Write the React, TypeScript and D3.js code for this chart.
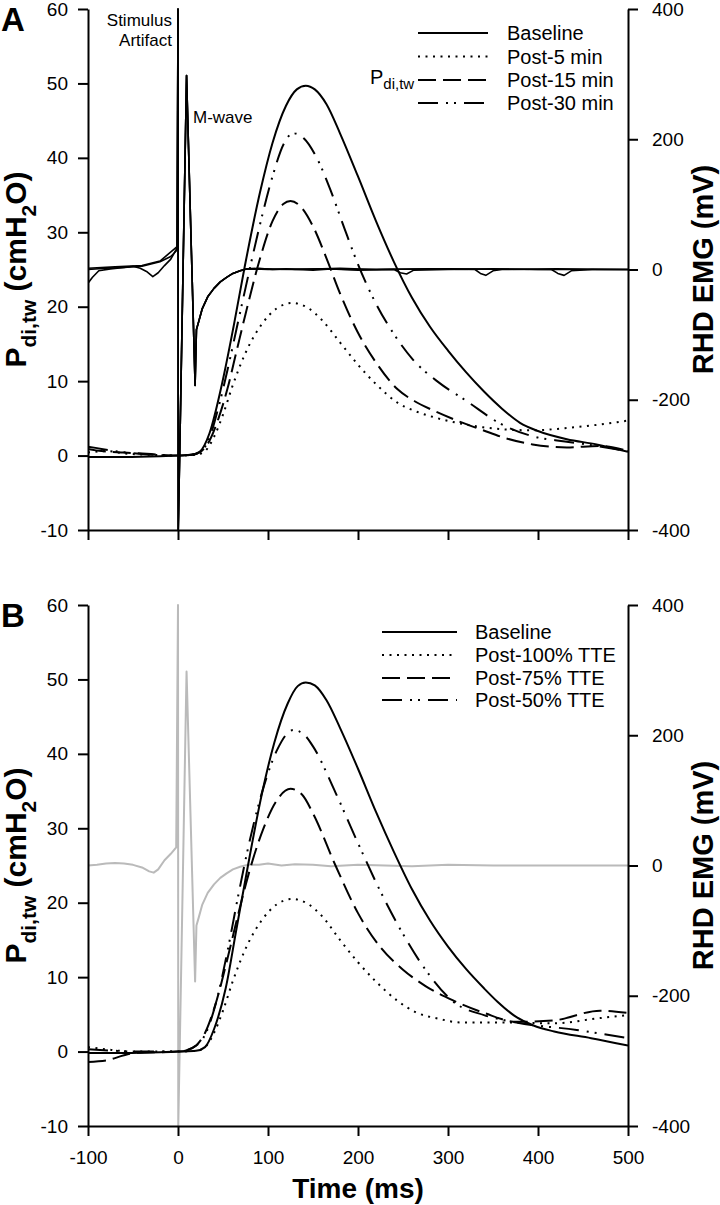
import React, { useEffect, useRef } from 'react';
import * as d3 from 'd3';

type Pt = [number, number];

const TIME_TICKS = [-100, 0, 100, 200, 300, 400, 500];
const PDI_TICKS = [-10, 0, 10, 20, 30, 40, 50, 60];
const EMG_TICKS = [-400, -200, 0, 200, 400];

const LEGEND_A = ['Baseline', 'Post-5 min', 'Post-15 min', 'Post-30 min'];
const LEGEND_B = ['Baseline', 'Post-100% TTE', 'Post-75% TTE', 'Post-50% TTE'];

// Panel A - Pdi,tw (ms, cmH2O)
const A_BASELINE: Pt[] = [[-100, -0.2], [-60, -0.2], [-20, -0.1], [0, 0], [15, 0.1], [24, 0.5], [35, 3], [49, 9.7], [62, 17.5], [74, 25.3], [91, 35.3], [105, 42], [120, 47], [132, 49.2], [142, 49.7], [152, 49.2], [165, 47.2], [180, 43.3], [200, 37.5], [220, 31.5], [240, 26], [260, 21.2], [280, 17.3], [300, 14.1], [320, 11.2], [340, 8.6], [360, 6.3], [380, 4.4], [400, 3.3], [432, 2.2], [465, 1.5], [500, 0.5]];
const A_POST5: Pt[] = [[-100, 0.4], [-80, 0.6], [-60, 0.3], [-30, 0.1], [0, 0], [20, 0.1], [30, 0.6], [40, 2.5], [50, 5.5], [61, 9.5], [75, 13.8], [94, 17.8], [110, 19.8], [127, 20.5], [145, 19.8], [160, 18.2], [180, 15.2], [200, 12.2], [220, 9.6], [244, 7.1], [263, 6], [283, 5.2], [310, 4.4], [339, 3.8], [365, 3.5], [394, 3.4], [432, 3.7], [470, 4.2], [500, 4.7]];
const A_POST15: Pt[] = [[-100, 0.9], [-85, 0.6], [-60, 0.4], [-30, 0.2], [0, 0], [15, 0.1], [25, 0.5], [35, 2], [45, 5], [55, 9], [65, 14], [75, 19], [90, 26], [105, 31.5], [117, 33.8], [125, 34.2], [135, 33.6], [150, 30.8], [165, 26.5], [180, 21.8], [200, 16.5], [220, 12.5], [244, 8.9], [263, 7.3], [283, 6.1], [310, 4.7], [339, 3.4], [365, 2.3], [394, 1.5], [432, 1.1], [468, 1.3], [500, 0.6]];
const A_POST30: Pt[] = [[-100, 1.2], [-90, 1], [-70, 0.6], [-40, 0.2], [0, 0], [15, 0.1], [25, 0.5], [35, 2.4], [45, 6.5], [55, 11.5], [65, 17], [75, 22.5], [90, 30.5], [105, 37.5], [118, 42], [128, 43.3], [140, 42.6], [155, 39.8], [170, 35.5], [185, 30.5], [200, 25.7], [220, 20.4], [240, 16.3], [261, 12.9], [290, 9.8], [321, 7.3], [358, 4.3], [394, 2.6], [430, 1.9], [465, 1.3], [500, 0.6]];

// Panel B - Pdi,tw (ms, cmH2O)
const B_BASELINE: Pt[] = [[-100, -0.2], [-60, -0.2], [-20, -0.1], [0, 0], [20, 0.1], [30, 0.6], [40, 3], [53, 8.5], [65, 16.5], [77, 24.5], [93, 34.5], [107, 41.5], [122, 46.8], [133, 49.1], [142, 49.6], [152, 49.2], [165, 47.2], [180, 43.5], [200, 38], [220, 32.2], [240, 26.8], [260, 21.8], [280, 17.6], [300, 14.1], [320, 11.1], [340, 8.5], [355, 6.7], [374, 4.8], [395, 3.5], [418, 2.7], [459, 1.8], [500, 0.8]];
const B_POST100: Pt[] = [[-100, 0.6], [-80, 0.3], [-50, 0], [0, 0], [20, 0.1], [30, 0.6], [40, 2.5], [50, 5.5], [61, 9.5], [75, 13.8], [94, 17.8], [110, 19.8], [127, 20.5], [145, 19.8], [160, 18.2], [180, 15], [200, 12], [220, 9.4], [243, 6.9], [264, 5.3], [290, 4.4], [315, 3.9], [366, 3.9], [417, 3.8], [469, 4.5], [500, 4.9]];
const B_POST75: Pt[] = [[-100, -1.4], [-80, -1.2], [-60, -0.5], [-49, -0.2], [0, 0], [10, 0.2], [20, 0.8], [30, 2.5], [43, 6.9], [55, 12.5], [67, 18.5], [80, 24.5], [95, 30], [110, 33.8], [125, 35.3], [138, 34.5], [150, 32], [175, 25], [200, 18.6], [225, 14], [250, 11], [275, 8.8], [305, 6.9], [340, 5.2], [376, 4], [418, 4.2], [469, 5.5], [500, 5.2]];
const B_POST50: Pt[] = [[-100, 0.3], [-70, 0.1], [-30, 0], [0, 0], [10, 0.2], [20, 0.8], [28, 1.8], [43, 6.9], [55, 13.5], [67, 21], [80, 28.5], [95, 35.5], [110, 40.5], [128, 43.2], [140, 42.6], [150, 41], [175, 34.8], [200, 28], [225, 21.5], [250, 15.8], [275, 11], [307, 6.6], [340, 4.9], [376, 3.9], [443, 2.9], [500, 1.8]];

// RHD EMG (ms, mV)
const M_WAVE: Pt[] = [[0, 400], [0.3, -400], [3, -200], [9.5, 298], [19, -178], [20.5, -92], [23, -80], [27, -60], [33, -42], [40, -29], [47, -19], [54, -12], [61, -6], [69, -2], [77, 1]];
const A_EMG_1: Pt[] = [[-100, 0], [-80, 2], [-60, 3], [-50, 5], [-42, 2], [-35, -3], [-28, -11], [-22, -5], [-15, 6], [-8, 16], [-1, 33], ...M_WAVE, [90, 2], [105, 0], [120, 1], [150, -1], [170, 1], [200, -1], [240, 0], [247, -5], [254, -7], [262, -1], [300, 0], [350, 1], [400, 0], [450, 0], [500, 0]];
const A_EMG_2: Pt[] = [[-100, -21], [-95, -12], [-88, -2], [-75, 1], [-60, 3], [-40, 5], [-20, 12], [-8, 20], [-1, 30], ...M_WAVE, [95, 1], [130, 0], [180, 2], [220, 0], [280, 1], [330, 0], [336, -6], [342, -9], [350, -2], [360, 0], [420, 1], [500, 0]];
const A_EMG_3: Pt[] = [[-100, 2], [-70, 4], [-40, 6], [-20, 13], [-1, 35], ...M_WAVE, [100, 0], [160, 1], [200, 0], [300, 1], [415, 0], [422, -6], [429, -9], [437, -2], [460, 0], [500, 0]];
const B_EMG: Pt[] = [[-100, 0], [-90, 1], [-80, 3], [-70, 4], [-60, 3], [-50, 1], [-40, -3], [-32, -9], [-27, -11], [-22, -6], [-15, 8], [-8, 18], [-2, 28], ...M_WAVE, [90, 1], [100, 3], [115, 0], [130, 2], [150, 1], [170, -1], [200, 1], [230, 0], [260, -1], [300, 1], [350, 0], [400, 0], [450, 0], [500, 0]];

const FONT = "'Liberation Sans', Arial, Helvetica, sans-serif";
const X0 = 88;
const X1 = 628;
const PANEL_H = 521;
const DASHES = ['none', '2,5.5', '18,7', '20,8,2,6,2,8'];

export default function App() {
    const svgRef = useRef<SVGSVGElement>(null);

    useEffect(() => {
        const svg = d3.select(svgRef.current);
        svg.selectAll('*').remove();

        const x = d3.scaleLinear().domain([-100, 500]).range([X0, X1]);
        const fmt = (d: any) => String(d);

        const drawPanel = (
            top: number,
            id: string,
            curves: Pt[][],
            emg: Pt[][],
            emgColor: string,
            emgWidth: number,
            legend: string[],
            leg: { x1: number; x2: number; tx: number; rows: number[] },
            showXLabels: boolean
        ) => {
            const yL = d3.scaleLinear().domain([-10, 60]).range([top + PANEL_H, top]);
            const yR = d3.scaleLinear().domain([-400, 400]).range([top + PANEL_H, top]);

            svg.append('clipPath').attr('id', `clip-${id}`)
                .append('rect')
                .attr('x', X0).attr('y', top - 1)
                .attr('width', X1 - X0).attr('height', PANEL_H + 1);

            const plot = svg.append('g').attr('clip-path', `url(#clip-${id})`);

            // EMG traces (right axis)
            const emgLine = d3.line<Pt>()
                .x(d => x(d[0]))
                .y(d => yR(d[1]));
            emg.forEach(tr => {
                plot.append('path')
                    .datum(tr)
                    .attr('d', emgLine)
                    .attr('fill', 'none')
                    .attr('stroke', emgColor)
                    .attr('stroke-width', emgWidth)
                    .attr('stroke-linejoin', 'round');
            });

            // Pdi,tw curves (left axis)
            const pLine = d3.line<Pt>()
                .x(d => x(d[0]))
                .y(d => yL(d[1]))
                .curve(d3.curveMonotoneX);
            curves.forEach((c, i) => {
                plot.append('path')
                    .datum(c)
                    .attr('d', pLine)
                    .attr('fill', 'none')
                    .attr('stroke', '#000')
                    .attr('stroke-width', 2)
                    .attr('stroke-dasharray', DASHES[i]);
            });

            // Axes
            const styleAxis = (g: any) => {
                g.selectAll('path, line').attr('stroke', '#000').attr('stroke-width', 2);
                g.selectAll('text').attr('font-size', 19).attr('font-family', FONT).attr('fill', '#000');
            };

            svg.append('g')
                .attr('transform', `translate(${X0},0)`)
                .call(d3.axisLeft(yL).tickValues(PDI_TICKS).tickFormat(fmt).tickSize(10).tickSizeOuter(0).tickPadding(10))
                .call(styleAxis);

            svg.append('g')
                .attr('transform', `translate(${X1},0)`)
                .call(d3.axisRight(yR).tickValues(EMG_TICKS).tickFormat(fmt).tickSize(10).tickSizeOuter(0).tickPadding(14))
                .call(styleAxis);

            const xAxis = d3.axisBottom(x).tickValues(TIME_TICKS).tickSize(10).tickSizeOuter(0).tickPadding(15)
                .tickFormat(showXLabels ? fmt : () => '');
            svg.append('g')
                .attr('transform', `translate(0,${top + PANEL_H})`)
                .call(xAxis)
                .call(styleAxis);

            // Axis titles
            const lt = svg.append('text')
                .attr('transform', `translate(26,${top + PANEL_H / 2}) rotate(-90)`)
                .attr('text-anchor', 'middle')
                .attr('font-family', FONT)
                .attr('font-weight', 'bold')
                .attr('font-size', 30);
            lt.append('tspan').text('P');
            lt.append('tspan').attr('font-size', 21).attr('dy', 10).text('di,tw');
            lt.append('tspan').attr('dy', -10).text(' (cmH');
            lt.append('tspan').attr('font-size', 21).attr('dy', 10).text('2');
            lt.append('tspan').attr('dy', -10).text('O)');

            svg.append('text')
                .attr('transform', `translate(713,${top + PANEL_H / 2}) rotate(-90)`)
                .attr('text-anchor', 'middle')
                .attr('font-family', FONT)
                .attr('font-weight', 'bold')
                .attr('font-size', 29)
                .text('RHD EMG (mV)');

            // Legend
            legend.forEach((name, i) => {
                const y = leg.rows[i];
                svg.append('line')
                    .attr('x1', leg.x1).attr('x2', leg.x2)
                    .attr('y1', y).attr('y2', y)
                    .attr('stroke', '#000')
                    .attr('stroke-width', 2)
                    .attr('stroke-dasharray', DASHES[i]);
                svg.append('text')
                    .attr('x', leg.tx).attr('y', y + 7)
                    .attr('font-family', FONT)
                    .attr('font-size', 20)
                    .text(name);
            });

            // Panel letter
            svg.append('text')
                .attr('x', 1).attr('y', top + 22)
                .attr('font-family', FONT)
                .attr('font-weight', 'bold')
                .attr('font-size', 33)
                .text(id);
        };

        drawPanel(9, 'A', [A_BASELINE, A_POST5, A_POST15, A_POST30], [A_EMG_1, A_EMG_2, A_EMG_3], '#000', 1.6,
            LEGEND_A, { x1: 418, x2: 488, tx: 507, rows: [33, 56.5, 80, 103] }, false);
        drawPanel(605, 'B', [B_BASELINE, B_POST100, B_POST75, B_POST50], [B_EMG], '#bababa', 2,
            LEGEND_B, { x1: 382, x2: 457, tx: 475, rows: [632, 655, 678, 700] }, true);

        // Panel A annotations
        const note = (tx: number, ty: number, s: string, anchor = 'start') =>
            svg.append('text')
                .attr('x', tx).attr('y', ty)
                .attr('text-anchor', anchor)
                .attr('font-family', FONT)
                .attr('font-size', 17)
                .text(s);
        note(172, 26, 'Stimulus', 'end');
        note(172, 46, 'Artifact', 'end');
        note(193, 123, 'M-wave');

        const pl = svg.append('text')
            .attr('x', 370).attr('y', 84)
            .attr('font-family', FONT)
            .attr('font-size', 20);
        pl.append('tspan').text('P');
        pl.append('tspan').attr('font-size', 15).attr('dy', 5).text('di,tw');

        // Time axis title
        svg.append('text')
            .attr('x', (X0 + X1) / 2).attr('y', 1198)
            .attr('text-anchor', 'middle')
            .attr('font-family', FONT)
            .attr('font-weight', 'bold')
            .attr('font-size', 28)
            .text('Time (ms)');
    }, []);

    return (
        <svg
            ref={svgRef}
            width={720}
            height={1205}
            style={{ position: 'absolute', left: 0, top: 0, background: '#fff' }}
        />
    );
}
